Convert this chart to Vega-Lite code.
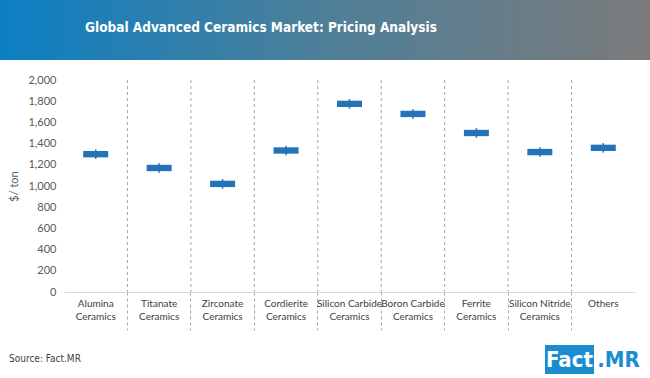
{
  "$schema": "https://vega.github.io/schema/vega-lite/v6.json",
  "padding": 0,
  "spacing": 14,
  "background": "white",
  "config": {
    "view": {"stroke": null},
    "font": "Lato"
  },
  "vconcat": [
    {
      "width": 650,
      "height": 60,
      "data": {"values": [{"title": "Global Advanced Ceramics Market: Pricing Analysis"}]},
      "layer": [
        {
          "mark": {
            "type": "rect",
            "fill": {
              "gradient": "linear", "x1": 0, "y1": 0, "x2": 1, "y2": 0,
              "stops": [
                {"offset": 0, "color": "#0b7fc3"},
                {"offset": 0.5, "color": "#4e7f98"},
                {"offset": 1, "color": "#7b7b7b"}
              ]
            }
          },
          "encoding": {}
        },
        {
          "mark": {"type": "text", "font": "'DejaVu Sans Condensed', Roboto, sans-serif", "fontWeight": "bold", "fontSize": 13.5, "color": "white", "baseline": "middle", "dx": -64, "dy": -2},
          "encoding": {"text": {"field": "title"}}
        }
      ]
    },
    {
      "width": 650,
      "height": 212,
      "data": {"values": [
        {"category": "Alumina Ceramics", "low": 1255, "q1": 1270, "q3": 1330, "high": 1345},
        {"category": "Titanate Ceramics", "low": 1125, "q1": 1140, "q3": 1200, "high": 1215},
        {"category": "Zirconate Ceramics", "low": 975, "q1": 990, "q3": 1050, "high": 1065},
        {"category": "Cordierite Ceramics", "low": 1290, "q1": 1305, "q3": 1365, "high": 1380},
        {"category": "Silicon Carbide Ceramics", "low": 1730, "q1": 1745, "q3": 1805, "high": 1820},
        {"category": "Boron Carbide Ceramics", "low": 1635, "q1": 1650, "q3": 1710, "high": 1725},
        {"category": "Ferrite Ceramics", "low": 1455, "q1": 1470, "q3": 1530, "high": 1545},
        {"category": "Silicon Nitride Ceramics", "low": 1275, "q1": 1290, "q3": 1350, "high": 1365},
        {"category": "Others", "low": 1315, "q1": 1330, "q3": 1390, "high": 1405}
      ]},
      "encoding": {
        "x": {
          "field": "category", "type": "nominal", "sort": null,
          "scale": {"type": "band", "range": [64, 635], "paddingInner": 0, "paddingOuter": 0},
          "axis": {
            "title": null,
            "bandPosition": 1,
            "labelAngle": 0,
            "labelExpr": "split(datum.label, ' Ceramics').length > 1 ? [split(datum.label, ' Ceramics')[0], 'Ceramics'] : datum.label",
            "labelFont": "Lato",
            "labelFontSize": 10,
            "labelColor": "#404040",
            "labelPadding": -32,
            "labelLineHeight": 13,
            "labelBaseline": "top",
            "labelOverlap": false,
            "domain": true,
            "domainColor": "#d9d9d9",
            "domainWidth": 1,
            "ticks": true,
            "tickColor": "#a6a6a6",
            "tickDash": [3, 3],
            "tickSize": 38,
            "tickWidth": 1,
            "tickOpacity": {"condition": {"test": "datum.value === 'Others'", "value": 0}, "value": 1},
            "grid": false
          }
        },
        "y": {
          "field": "low", "type": "quantitative",
          "scale": {"domain": [0, 2000]},
          "axis": {
            "title": "$/ ton",
            "titleFont": "Lato",
            "titleFontWeight": "normal",
            "titleFontSize": 11,
            "titleColor": "#595959",
            "titlePadding": 8,
            "offset": -64,
            "values": [0, 200, 400, 600, 800, 1000, 1200, 1400, 1600, 1800, 2000],
            "format": ",d",
            "labelFont": "Lato",
            "labelFontSize": 11,
            "labelColor": "#595959",
            "labelPadding": 8,
            "labelOverlap": false,
            "domain": false,
            "ticks": false,
            "grid": false
          }
        }
      },
      "layer": [
        {
          "transform": [{"filter": "datum.category != 'Others'"}],
          "mark": {"type": "rule", "color": "#a6a6a6", "strokeDash": [3, 3], "strokeWidth": 1},
          "encoding": {
            "x": {"field": "category", "type": "nominal", "sort": null, "bandPosition": 1},
            "y": null
          }
        },
        {
          "mark": {"type": "rule", "color": "#2472b8", "strokeWidth": 1.5},
          "encoding": {
            "y2": {"field": "high"}
          }
        },
        {
          "mark": {"type": "bar", "color": "#2472b8", "size": 25},
          "encoding": {
            "y": {"field": "q1", "type": "quantitative"},
            "y2": {"field": "q3"}
          }
        }
      ]
    },
    {
      "width": 650,
      "height": 29,
      "title": {
        "text": "Source: Fact.MR",
        "orient": "top",
        "anchor": "start",
        "frame": "group",
        "baseline": "middle",
        "offset": -24,
        "dx": 9,
        "font": "'DejaVu Sans Condensed', Roboto, sans-serif",
        "fontSize": 10,
        "fontWeight": "normal",
        "color": "#404040"
      },
      "data": {"values": [
        {"item": "Fact", "kind": "box"},
        {"item": ".MR", "kind": "plain"}
      ]},
      "encoding": {
        "x": {
          "field": "item", "type": "nominal", "sort": null,
          "scale": {"type": "band", "range": [545, 643], "paddingInner": 0, "paddingOuter": 0},
          "axis": null
        }
      },
      "layer": [
        {
          "transform": [{"filter": "datum.kind == 'box'"}],
          "mark": {"type": "bar", "color": "#1a8dd0", "size": 48},
          "encoding": {}
        },
        {
          "mark": {"type": "text", "align": "center", "baseline": "middle", "font": "'DejaVu Sans Condensed', Roboto, sans-serif", "fontWeight": "bold", "fontSize": 22},
          "encoding": {
            "text": {"field": "item"},
            "color": {"field": "kind", "type": "nominal", "scale": {"domain": ["box", "plain"], "range": ["white", "#1a8dd0"]}, "legend": null}
          }
        }
      ]
    }
  ]
}
